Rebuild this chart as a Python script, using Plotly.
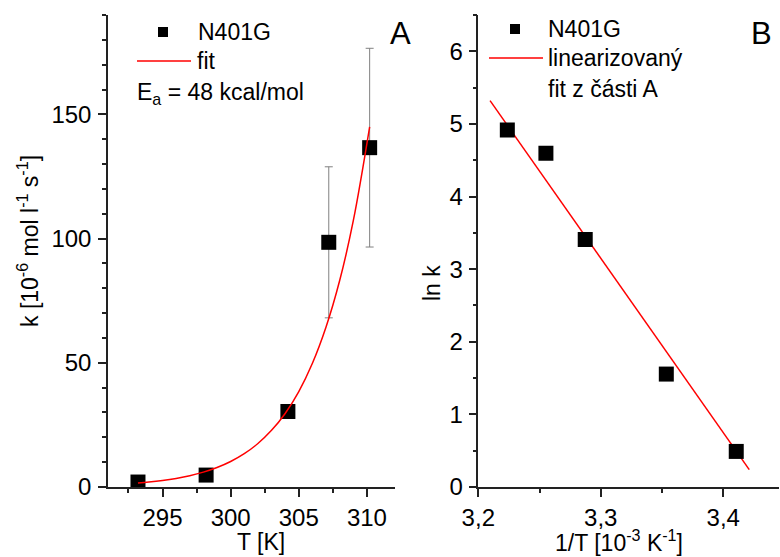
import plotly.graph_objects as go

# ---- Panel A data ----
T_K = [293.2, 298.2, 304.2, 307.2, 310.2]
k_vals = [2.0, 4.8, 30.4, 98.5, 136.6]
k_err = [0, 0, 0, 30.4, 40.0]

T_fit = [293.2, 294, 295, 296, 297, 298, 299, 300, 301, 302, 303, 304, 305, 306, 307, 308, 309, 310.2]
k_fit = [1.59, 1.98, 2.62, 3.46, 4.55, 5.98, 7.84, 10.27, 13.4, 17.5, 22.8, 29.6, 38.4, 49.8, 64.4, 83.1, 107.2, 145.0]

# ---- Panel B data ----
invT = [3.4106, 3.3535, 3.2873, 3.2552, 3.2237]
ln_k = [0.49, 1.555, 3.41, 4.596, 4.917]
invT_fit = [3.2096, 3.4212]
ln_k_fit = [5.32, 0.24]

W, H = 780, 557
FONT = "Liberation Sans, Arial, sans-serif"

def px(x):
    return x / W

def py(y):
    return 1 - y / H

fig = go.Figure()

fig.add_trace(go.Scatter(
    x=T_K, y=k_vals, mode="markers",
    marker=dict(symbol="square", size=15, color="black"),
    error_y=dict(type="data", array=k_err, visible=True, color="#808080", thickness=1, width=4),
    xaxis="x", yaxis="y", showlegend=False))
fig.add_trace(go.Scatter(
    x=T_fit, y=k_fit, mode="lines", line=dict(color="red", width=1.5, shape="spline"),
    xaxis="x", yaxis="y", showlegend=False))

fig.add_trace(go.Scatter(
    x=invT_fit, y=ln_k_fit, mode="lines", line=dict(color="red", width=1.5),
    xaxis="x2", yaxis="y2", showlegend=False))
fig.add_trace(go.Scatter(
    x=invT, y=ln_k, mode="markers",
    marker=dict(symbol="square", size=15, color="black"),
    xaxis="x2", yaxis="y2", showlegend=False))

TICKFONT = dict(family=FONT, size=24, color="black")
axis_common = dict(
    showline=True, linecolor="#222", linewidth=1.5, mirror=False,
    ticks="outside", ticklen=8, tickwidth=1.5, tickcolor="#222",
    showgrid=False, zeroline=False, automargin=False,
)
minor_common = dict(ticks="outside", ticklen=4, tickwidth=1.5, tickcolor="#222")

ydom = [py(487), py(15)]

fig.update_layout(
    width=W, height=H,
    margin=dict(l=0, r=0, t=0, b=0, pad=0, autoexpand=False),
    paper_bgcolor="white", plot_bgcolor="white",
    separators=", ",
    showlegend=False,
    font=dict(family=FONT, color="black", size=22),
    xaxis=dict(domain=[px(108), px(395)], range=[291, 312.06], dtick=5, tick0=295,
               minor=dict(dtick=2.5, **minor_common), tickfont=TICKFONT,
               anchor="y", ticklabelstandoff=0, **axis_common),
    yaxis=dict(domain=ydom, range=[0, 190], dtick=50,
               minor=dict(dtick=10, **minor_common), tickfont=TICKFONT,
               anchor="x", ticklabelstandoff=2, **axis_common),
    xaxis2=dict(domain=[px(478.3), px(779)], range=[3.2, 3.4455], dtick=0.1, tick0=3.2,
                tickformat=".1f", tickfont=TICKFONT,
                minor=dict(dtick=0.05, **minor_common),
                anchor="y2", ticklabelstandoff=0, **axis_common),
    yaxis2=dict(domain=ydom, range=[0, 6.5], dtick=1,
                minor=dict(dtick=0.5, **minor_common), tickfont=TICKFONT,
                anchor="x2", ticklabelstandoff=1, **axis_common),
)

ann = []
def text(x, y, s, size=22, xanchor="left", yanchor="middle", angle=0):
    ann.append(dict(x=px(x), y=py(y), xref="paper", yref="paper", text=s, showarrow=False,
                    xanchor=xanchor, yanchor=yanchor, textangle=angle,
                    font=dict(family=FONT, size=size, color="black")))

# axis titles
text(261, 542, "T [K]", size=23, xanchor="center")
text(28, 241, "k [10<sup>-6</sup> mol l<sup>-1</sup> s<sup>-1</sup>]", size=23, xanchor="center", angle=-90)
text(619, 541, "1/T [10<sup>-3</sup> K<sup>-1</sup>]", size=23, xanchor="center")
text(432, 283, "ln k", size=23, xanchor="center", angle=-90)

# panel letters
text(401, 33, "A", size=31, xanchor="center")
text(761, 33, "B", size=31, xanchor="center")

# legend A
text(196, 32, "N401G", size=23)
text(195, 61, "fit", size=23)
text(135, 94, "E<sub>a</sub> = 48 kcal/mol", size=23)
# legend B
text(546, 29, "N401G", size=23)
text(546, 58, "linearizovaný", size=23)
text(546, 89, "fit z části A", size=23)

fig.update_layout(annotations=ann)

shapes = []
def square(cx, cy, s=10):
    shapes.append(dict(type="rect", xref="paper", yref="paper",
                       x0=px(cx - s / 2), x1=px(cx + s / 2), y0=py(cy + s / 2), y1=py(cy - s / 2),
                       fillcolor="black", line=dict(width=0)))
def hline(x0, x1, y):
    shapes.append(dict(type="line", xref="paper", yref="paper",
                       x0=px(x0), x1=px(x1), y0=py(y), y1=py(y),
                       line=dict(color="red", width=1.5)))

square(163, 32)
hline(137, 191, 61)
square(515, 29)
hline(489, 543, 58)

fig.update_layout(shapes=shapes)

fig.write_html("out.html")
